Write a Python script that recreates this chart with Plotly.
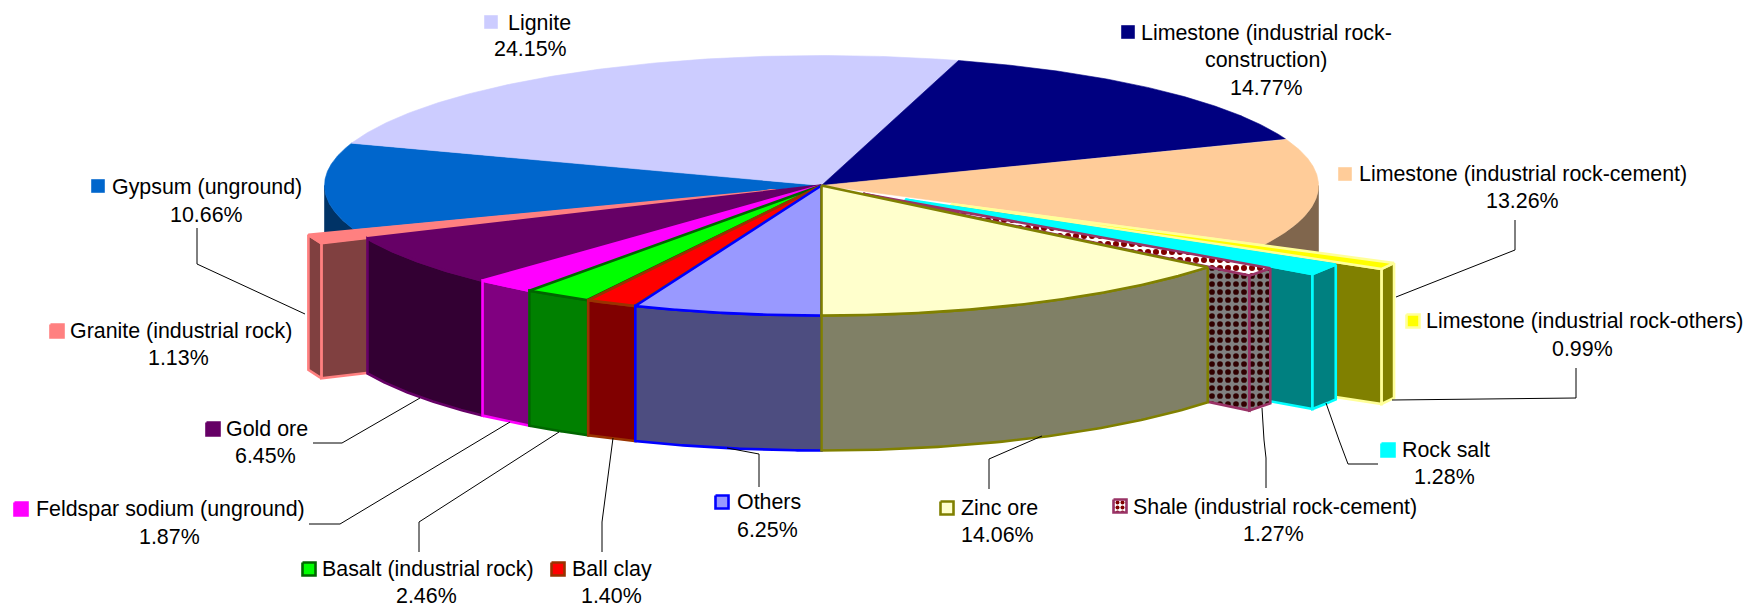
import numpy as np
import plotly.graph_objects as go

# ---------- data ----------
categories = ["Lignite", "Limestone (industrial rock-construction)", "Limestone (industrial rock-cement)",
              "Limestone (industrial rock-others)", "Rock salt", "Shale (industrial rock-cement)", "Zinc ore",
              "Others", "Ball clay", "Basalt (industrial rock)", "Feldspar sodium (unground)", "Gold ore",
              "Granite (industrial rock)", "Gypsum (unground)"]
shares = [24.15, 14.77, 13.26, 0.99, 1.28, 1.27, 14.06, 6.25, 1.40, 2.46, 1.87, 6.45, 1.13, 10.66]
explode = [0, 0, 0, 0.297, 0.20, 0.105, 0, 0, 0, 0, 0, 0, 0.10, 0]

# ---------- style ----------
top_colors = ["#CCCCFF", "#000080", "#FFCC99", "#FFFF00", "#00FFFF", "#FFFFFF", "#FFFFCC",
              "#9999FF", "#FF0000", "#00FF00", "#FF00FF", "#660066", "#FF8080", "#0066CC"]
side_colors = ["#666680", "#000040", "#80664D", "#808000", "#008080", "#808080", "#808066",
               "#4D4D80", "#800000", "#008000", "#800080", "#330033", "#804040", "#003366"]
edge_colors = [None, None, None, "#FFFF99", "#00FFFF", "#993366", "#808000",
               "#0000FF", "#993300", "#006600", "#FF00FF", "#660066", "#FF8080", None]
EDGE_W = 2.6

# ---------- projection of the pie ----------
CX, CY, RX, RY, DEPTH = 821.5, 185.5, 497, 130, 135
FIRST_ANGLE = 180 - sum(shares[:7]) * 3.6
# the source chart snaps slice boundaries to whole degrees
ang = np.floor(np.r_[0, np.cumsum(shares)] * 3.6 + FIRST_ANGLE + 0.49)


def pt(theta):
    t = np.radians(theta)
    return CX + RX * np.sin(t), CY - RY * np.cos(t)


def poly(xs, ys, fill, edge=None, pattern=None):
    d = dict(x=list(xs) + [xs[0]], y=list(ys) + [ys[0]], mode="lines", fill="toself", fillcolor=fill,
             hoverinfo="skip", showlegend=False,
             line=dict(color=edge if edge else fill, width=EDGE_W if edge else 0.6))
    if pattern:
        d["fillpattern"] = pattern
    return go.Scatter(**d)


PAT_TOP = dict(shape=".", bgcolor="#FFFFFF", fgcolor="#800000", size=8, solidity=0.45, fillmode="replace")
PAT_SIDE = dict(shape=".", bgcolor="#808080", fgcolor="#300000", size=8, solidity=0.4, fillmode="replace")
fig = go.Figure()


def draw_slice(i, rim_from=None, rim_to=None, face=None):
    a0, a1 = ang[i], ang[i + 1]
    mid = np.radians((a0 + a1) / 2)
    ox = RX * explode[i] * np.sin(mid)
    oy = -RY * explode[i] * np.cos(mid)
    pat_top = PAT_TOP if i == 5 else None
    pat_side = PAT_SIDE if i == 5 else None
    if face is not None:
        fx, fy = pt(face)
        xs = [CX + ox, fx + ox, fx + ox, CX + ox]
        ys = [CY + oy, fy + oy, fy + oy + DEPTH, CY + oy + DEPTH]
        fig.add_trace(poly(xs, ys, side_colors[i], edge_colors[i], pat_side))
    if rim_from is not None:
        t = np.linspace(rim_from, rim_to, 80)
        x, y = pt(t)
        xs = np.r_[x, x[::-1]] + ox
        ys = np.r_[y, y[::-1] + DEPTH] + oy
        fig.add_trace(poly(list(xs), list(ys), side_colors[i], edge_colors[i], pat_side))
    t = np.linspace(a0, a1, 160)
    x, y = pt(t)
    fig.add_trace(poly(list(np.r_[CX, x] + ox), list(np.r_[CY, y] + oy), top_colors[i], edge_colors[i], pat_top))


# back slices first, then the exploded ones, then front to centre
draw_slice(13, rim_from=ang[13], rim_to=270)
draw_slice(0)
draw_slice(1)
draw_slice(2, rim_from=90, rim_to=ang[3])
draw_slice(3, rim_from=ang[3], rim_to=ang[4], face=ang[4])
draw_slice(4, rim_from=ang[4], rim_to=ang[5], face=ang[5])
draw_slice(5, rim_from=ang[5], rim_to=ang[6], face=ang[6])
draw_slice(12, rim_from=ang[12], rim_to=ang[13], face=ang[12])
for i in [11, 10, 9, 8, 7, 6]:
    draw_slice(i, rim_from=ang[i], rim_to=ang[i + 1])

# ---------- leader lines ----------
leader_lines = [
    ([197, 197, 305], [228, 264, 314]),
    ([313, 342, 420], [443, 443, 398]),
    ([309, 340, 510], [524, 524, 422]),
    ([419, 419, 559], [552, 522, 432]),
    ([602, 602, 613], [552, 522, 438]),
    ([759, 759, 727], [487, 454, 448]),
    ([989, 989, 1042], [489, 459, 436]),
    ([1266, 1266, 1264, 1262], [488, 458, 440, 408]),
    ([1378, 1348, 1339, 1326], [464, 464, 440, 403]),
    ([1576, 1576, 1392], [368, 398, 400]),
    ([1515, 1515, 1396], [220, 250, 297]),
]
for lx, ly in leader_lines:
    fig.add_trace(go.Scatter(x=lx, y=ly, mode="lines", line=dict(color="#000000", width=1),
                             hoverinfo="skip", showlegend=False))

# ---------- labels: (swatch x, swatch y, text left, first line y, pct centre x, pct y) ----------
label_layout = {
    0: (491, 22, 506, 23, 530, 49),
    1: (1128, 32, 1139, 33, 1266, 88),
    2: (1345, 174, 1357, 174, 1522, 201),
    3: (1413, 321, 1424, 321, 1582, 349),
    4: (1388, 450, 1400, 450, 1444, 477),
    5: (1120, 506, 1131, 507, 1273, 534),
    6: (947, 508, 959, 508, 997, 535),
    7: (722, 502, 735, 502, 767, 530),
    8: (558, 569, 570, 569, 611, 596),
    9: (309, 569, 320, 569, 426, 596),
    10: (21, 509, 34, 509, 169, 537),
    11: (213, 429, 224, 429, 265, 456),
    12: (57, 331, 68, 331, 178, 358),
    13: (98, 186, 110, 187, 206, 215),
}
line_breaks = {1: ["Limestone (industrial rock-", "construction)"]}
annotations = []
FONT = dict(family="Liberation Sans, Arial, sans-serif", size=21.4, color="#000000")
SW_PAT = dict(shape=".", bgcolor="#FFFFFF", fgcolor="#800000", size=5, solidity=0.5, fillmode="replace")
for i, (sx, sy, tx, ty, px, py) in label_layout.items():
    h = 6.5
    fig.add_trace(poly([sx - h, sx + h, sx + h, sx - h], [sy - h, sy - h, sy + h, sy + h],
                       top_colors[i], edge_colors[i], SW_PAT if i == 5 else None))
    lines = line_breaks.get(i, [categories[i]])
    annotations.append(dict(x=tx, y=ty, text=lines[0], xanchor="left", yanchor="middle", showarrow=False, font=FONT))
    if len(lines) > 1:
        annotations.append(dict(x=px, y=60, text=lines[1], xanchor="center", yanchor="middle", showarrow=False, font=FONT))
    annotations.append(dict(x=px, y=py, text=f"{shares[i]:.2f}%", xanchor="center", yanchor="middle",
                            showarrow=False, font=FONT))

fig.update_layout(
    width=1747, height=607, margin=dict(l=0, r=0, t=0, b=0), paper_bgcolor="#FFFFFF", plot_bgcolor="#FFFFFF",
    showlegend=False, hovermode=False, annotations=annotations,
    xaxis=dict(range=[0, 1747], visible=False, fixedrange=True),
    yaxis=dict(range=[607, 0], visible=False, fixedrange=True),
)
fig.write_html("out.html", config=dict(displayModeBar=False),
               post_script="document.body.style.margin='0';document.body.style.overflow='hidden';")
